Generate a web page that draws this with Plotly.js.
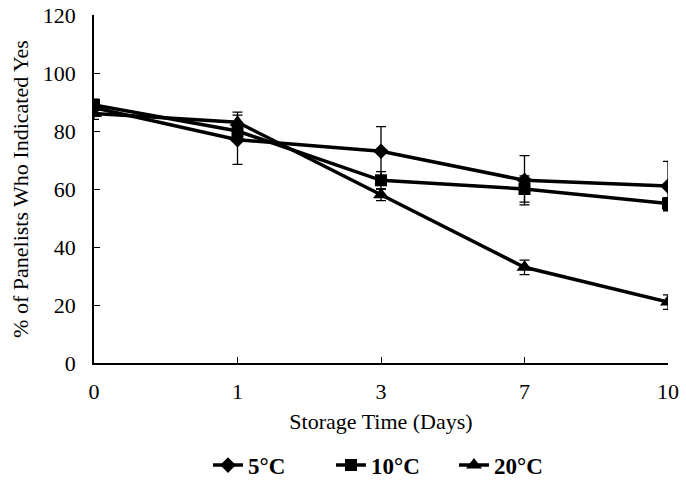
<!DOCTYPE html>
<html>
<head>
<meta charset="utf-8">
<script src="https://cdn.plot.ly/plotly-3.0.1.min.js"></script>
<style>
  *{margin:0;padding:0;}
  body{background:#fff;}
  #chart{width:686px;height:482px;}
</style>
</head>
<body>
<div id="chart"></div>
<script>
// storage days (categories, equally spaced)
const days = ["0", "1", "3", "7", "10"];
const pos = [0, 1, 2, 3, 4];

// % of panelists who indicated yes
const t5  = [88, 77, 73, 63, 61];
const t10 = [89, 80, 63, 60, 55];
const t20 = [86, 83, 58, 33, 21];

// error bar sizes
const e5  = [2, 8.5, 8.5, 8.5, 8.5];
const e10 = [2, 3, 3, 4.5, 2];
const e20 = [2, 3.5, 2, 2.5, 2.5];

function series(name, y, err, symbol, size) {
    return {
        x: pos, y: y, name: name,
        type: 'scatter', mode: 'lines+markers',
        line: {color: 'black', width: 3.5},
        marker: {symbol: symbol, size: size, color: 'black'},
        error_y: {type: 'data', array: err, visible: true,
                  color: 'black', thickness: 1.3, width: 5}
    };
}

const data = [
    series('5°C', t5, e5, 'diamond', 12),
    series('10°C', t10, e10, 'square', 12),
    series('20°C', t20, e20, 'triangle-up', 14)
];

const font = {family: 'Liberation Serif, Times New Roman, serif', size: 22, color: 'black'};

const layout = {
    width: 686, height: 482,
    margin: {l: 94, r: 18, t: 15, b: 119},
    paper_bgcolor: 'white', plot_bgcolor: 'white',
    font: font,
    showlegend: true,
    legend: {orientation: 'h', x: 0.52, xanchor: 'center',
             yref: 'container', y: 0.035, yanchor: 'middle',
             font: {family: font.family, size: 23, color: 'black', weight: 'bold'},
             entrywidth: 78, entrywidthmode: 'pixels',
             traceorder: 'normal'},
    xaxis: {
        range: [0, 4], tickvals: pos, ticktext: days,
        showline: true, linecolor: 'black', linewidth: 1.5,
        ticks: 'inside', ticklen: 6, tickcolor: 'black',
        showgrid: false, zeroline: false,
        tickfont: font, ticklabelstandoff: 8,
        title: {text: 'Storage Time (Days)', font: font, standoff: 10}
    },
    yaxis: {
        range: [0, 120], dtick: 20,
        showline: true, linecolor: 'black', linewidth: 1.5,
        ticks: 'inside', ticklen: 6, tickcolor: 'black',
        showgrid: false, zeroline: false,
        tickfont: font, ticklabelstandoff: 12,
        title: {text: '% of Panelists Who Indicated Yes', font: font, standoff: 8}
    }
};

Plotly.newPlot('chart', data, layout, {displayModeBar: false});
</script>
</body>
</html>
